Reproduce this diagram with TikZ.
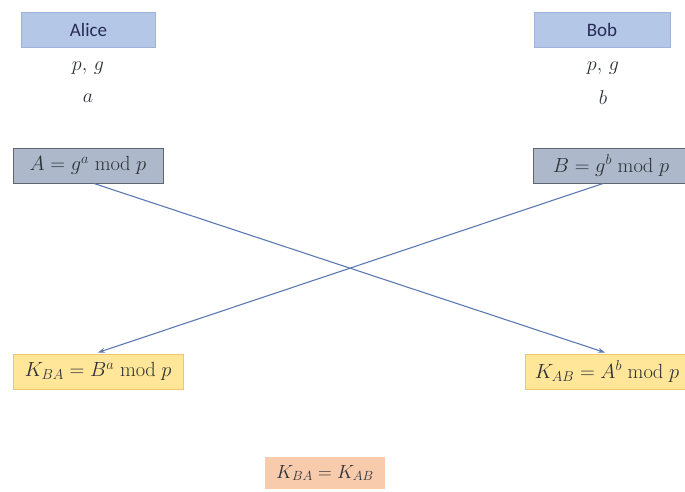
\RequirePackage{fix-cm}
\documentclass[tikz,border=0pt]{standalone}
\usepackage{fontspec}
\newfontfamily\calib{Carlito}
\usepackage{tikz}
\usetikzlibrary{arrows.meta,positioning}
\definecolor{partybg}{HTML}{B4C7E7}
\definecolor{partyln}{HTML}{9DB3DA}
\definecolor{pubbg}{HTML}{ADB9CA}
\definecolor{publn}{HTML}{5F6670}
\definecolor{keybg}{HTML}{FFE699}
\definecolor{keyln}{HTML}{F2C46B}
\definecolor{eqbg}{HTML}{F8CBAD}
\definecolor{arln}{HTML}{5B7AB2}
\definecolor{txt}{HTML}{2E3238}
\tikzset{
  party/.style = {draw=partyln, fill=partybg, line width=0.6pt, inner sep=0pt,
                  minimum width=134pt, minimum height=35pt,
                  font=\calib\fontsize{19}{22}\selectfont, text=txt!85!blue},
  pub/.style   = {draw=publn, fill=pubbg, line width=1pt, inner sep=0pt,
                  minimum height=35pt, font=\fontsize{20.5}{24}\selectfont, text=txt},
  key/.style   = {draw=keyln, fill=keybg, line width=1pt, inner sep=0pt,
                  minimum height=35pt, font=\fontsize{20.5}{24}\selectfont, text=txt},
  kres/.style  = {fill=eqbg, inner sep=0pt, minimum width=120pt, minimum height=32pt,
                  font=\fontsize{19}{22}\selectfont, text=txt},
  val/.style   = {font=\fontsize{20}{24}\selectfont, text=txt},
  ar/.style    = {-{Stealth[length=7pt,width=5pt]}, line width=1.1pt, draw=arln},
}
\begin{document}
\begin{tikzpicture}[x=1pt, y=-1pt]
  \useasboundingbox (0,0) rectangle (685,491);
  % parties
  \node[party] (alice) at (88.5,29.5) {Alice};
  \node[party, minimum width=136pt] (bob) at (602,29.5) {Bob};
  \node[val] (pga) at (88,68) {$p,\,g$};
  \node[val] (seca) at (88,98) {$a$};
  \node[val] (pgb) at (603,68) {$p,\,g$};
  \node[val] (secb) at (603,98) {$b$};
  % public values
  \node[pub, minimum width=150pt] (puba) at (88,165.5) {$A = g^{a} \bmod p$};
  \node[pub, minimum width=156pt] (pubb) at (611,165.5) {$B = g^{b} \bmod p$};
  % shared keys
  \node[key, minimum width=170pt] (kba) at (98,371.5) {$K_{BA} = B^{a} \bmod p$};
  \node[key, minimum width=164pt] (kab) at (607,371.5) {$K_{AB} = A^{b} \bmod p$};
  \node[kres] (keq) at (325,473) {$K_{BA} = K_{AB}$};
  % exchange
  \draw[ar] ([xshift=6pt]puba.south) -- ([xshift=-2pt,yshift=1pt]kab.north);
  \draw[ar] ([xshift=-8pt]pubb.south) -- ([yshift=1pt]kba.north);
\end{tikzpicture}
\end{document}
